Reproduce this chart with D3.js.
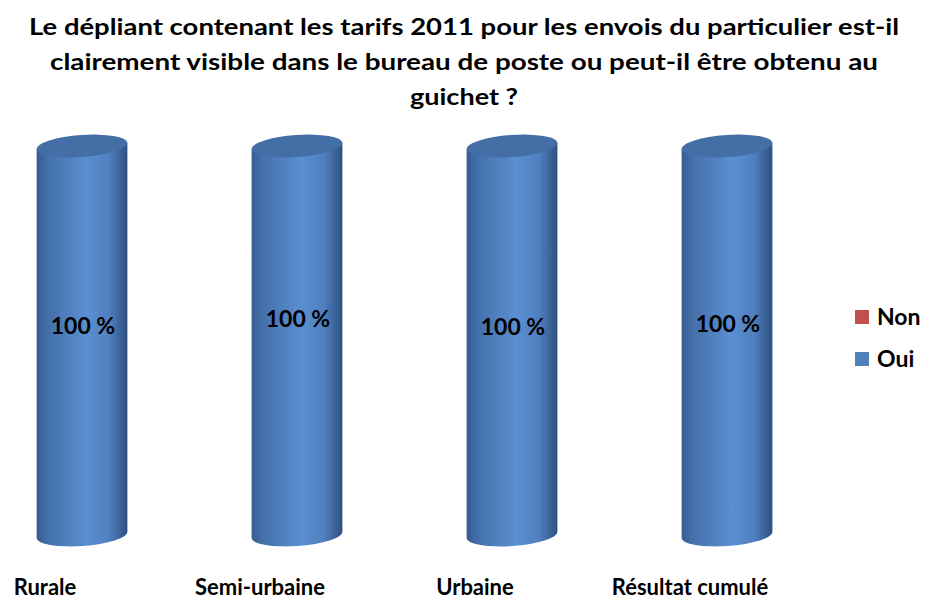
<!DOCTYPE html>
<html>
<head>
<meta charset="utf-8">
<script src="https://cdn.jsdelivr.net/npm/d3@7"></script>
<style>
  body { margin: 0; background: #fff; }
  text { font-family: Lato, "Open Sans", sans-serif; font-weight: bold; fill: #000; }
</style>
</head>
<body>
<div id="chart"></div>
<script>
var categories = ["Rurale", "Semi-urbaine", "Urbaine", "Résultat cumulé"];
var series = ["Non", "Oui"];
var nonValues = [0, 0, 0, 0];
var ouiValues = [100, 100, 100, 100];
var titleLines = [
  "Le dépliant contenant les tarifs 2011 pour les envois du particulier est-il",
  "clairement visible dans le bureau de poste ou peut-il être obtenu au",
  "guichet ?"
];

var width = 925, height = 602;
var colors = { Non: "#c0504d", Oui: "#4f81bd" };

var svg = d3.select("#chart").append("svg")
  .attr("width", width)
  .attr("height", height);

var defs = svg.append("defs");
var grad = defs.append("linearGradient").attr("id", "cyl")
  .attr("x1", "0%").attr("x2", "100%").attr("y1", "0%").attr("y2", "0%");
[["0%", "#375c90"], ["12%", "#4470aa"], ["55%", "#5b8fd2"], ["80%", "#4f7fbf"], ["100%", "#2e5080"]]
  .forEach(function (s) { grad.append("stop").attr("offset", s[0]).attr("stop-color", s[1]); });
var gradR = defs.append("linearGradient").attr("id", "cylRed")
  .attr("x1", "0%").attr("x2", "100%");
[["0%", "#8f3a38"], ["55%", "#d0605d"], ["100%", "#7e3330"]]
  .forEach(function (s) { gradR.append("stop").attr("offset", s[0]).attr("stop-color", s[1]); });

// title
var title = svg.append("g");
var titleWidths = [870, 828, 108];
title.selectAll("text").data(titleLines).enter().append("text")
  .attr("x", 464)
  .attr("y", function (d, i) { return 35 + i * 35; })
  .attr("text-anchor", "middle")
  .attr("font-size", 23)
  .attr("textLength", function (d, i) { return titleWidths[i]; })
  .attr("lengthAdjust", "spacingAndGlyphs")
  .text(function (d) { return d; });

// scales
var x = d3.scalePoint().domain(categories).range([82, 727]);
var y = d3.scaleLinear().domain([0, 100]).range([535, 146]);

var rx = 45.5, ry = 11, tilt = 4 * Math.PI / 180;
var dx = rx * Math.cos(tilt), dy = rx * Math.sin(tilt);

var table = categories.map(function (c, i) { return { cat: c, Non: nonValues[i], Oui: ouiValues[i] }; });
var stacked = d3.stack().keys(series)(table);

function bodyPath(cx, y0, y1) {
  return "M" + (cx - dx) + "," + (y1 + dy) +
    "L" + (cx - dx) + "," + (y0 + dy) +
    "A" + rx + "," + ry + " -4 0 0 " + (cx + dx) + "," + (y0 - dy) +
    "L" + (cx + dx) + "," + (y1 - dy) + "Z";
}

var bars = svg.append("g");
stacked.forEach(function (layer) {
  layer.forEach(function (seg, i) {
    if (seg[1] - seg[0] <= 0) return;
    var cx = x(categories[i]);
    var y0 = y(seg[0]), y1 = y(seg[1]);
    bars.append("path")
      .attr("d", bodyPath(cx, y0, y1))
      .attr("fill", layer.key === "Oui" ? "url(#cyl)" : "url(#cylRed)");
    bars.append("ellipse")
      .attr("cx", 0).attr("cy", 0)
      .attr("rx", rx).attr("ry", ry)
      .attr("transform", "translate(" + cx + "," + y1 + ") rotate(-4)")
      .attr("fill", layer.key === "Oui" ? "#446ea6" : "#a84644");
  });
});

// value labels
var labelOffsets = [-7, -14, -6, -9];
svg.append("g").selectAll("text").data(table).enter().append("text")
  .attr("x", function (d) { return x(d.cat) + 1; })
  .attr("y", function (d, i) { return y(d.Oui / 2) + labelOffsets[i]; })
  .attr("text-anchor", "middle")
  .attr("font-size", 23)
  .text(function (d) { return d.Oui + " %"; });

// category labels
svg.append("g").selectAll("text").data(categories).enter().append("text")
  .attr("x", function (d) { return x(d) - 37; })
  .attr("y", 595)
  .attr("text-anchor", "middle")
  .attr("font-size", 22)
  .text(function (d) { return d; });

// legend
var legend = svg.append("g").selectAll("g").data(series).enter().append("g")
  .attr("transform", function (d, i) { return "translate(855," + (310 + i * 42) + ")"; });
legend.append("rect").attr("width", 14).attr("height", 14)
  .attr("fill", function (d) { return colors[d]; });
legend.append("text").attr("x", 22).attr("y", 15)
  .attr("font-size", 23)
  .text(function (d) { return d; });
</script>
</body>
</html>
